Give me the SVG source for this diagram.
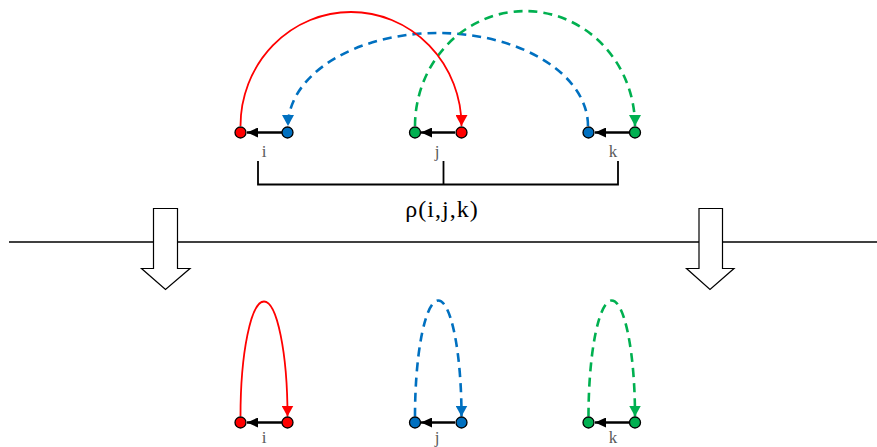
<svg xmlns="http://www.w3.org/2000/svg" width="877" height="447" viewBox="0 0 877 447">
<style>
.dot{stroke:#000;stroke-width:1.3}
.r{fill:#FF0000}.b{fill:#0070C0}.g{fill:#00B050}
.lbl{font-family:"Liberation Serif",serif;font-size:17px;fill:#595959;text-anchor:middle}
.rho{font-family:"Liberation Serif",serif;font-size:24px;fill:#000;text-anchor:middle;letter-spacing:1px}
.blk{stroke:#000;stroke-width:2.5;fill:none}
.arcR{stroke:#FF0000;stroke-width:1.8;fill:none}
.arcB{stroke:#0070C0;stroke-width:2.6;fill:none;stroke-dasharray:9 6}
.arcG{stroke:#00B050;stroke-width:2.6;fill:none;stroke-dasharray:9 6}
.blockarrow{fill:#fff;stroke:#000;stroke-width:1.2}
</style>
<defs>
<marker id="mK" markerUnits="userSpaceOnUse" markerWidth="12" markerHeight="10" refX="11" refY="5" orient="auto"><path d="M0,0 L11,5 L0,10 z" fill="#000"/></marker>
<marker id="mR" markerUnits="userSpaceOnUse" markerWidth="12" markerHeight="12" refX="11" refY="6" orient="auto"><path d="M0,0 L11,6 L0,12 z" fill="#FF0000"/></marker>
<marker id="mB" markerUnits="userSpaceOnUse" markerWidth="12" markerHeight="12" refX="11" refY="6" orient="auto"><path d="M0,0 L11,6 L0,12 z" fill="#0070C0"/></marker>
<marker id="mG" markerUnits="userSpaceOnUse" markerWidth="12" markerHeight="12" refX="11" refY="6" orient="auto"><path d="M0,0 L11,6 L0,12 z" fill="#00B050"/></marker>
</defs>

<g id="separator">
<line x1="9" y1="242" x2="877" y2="242" stroke="#000" stroke-width="1.6"/>
</g>

<g id="blockarrow-left">
<path class="blockarrow" d="M153.5,208.5 H177.5 V268.5 H190 L165.5,289.5 L141.5,268.5 H153.5 Z"/>
</g>
<g id="blockarrow-right">
<path class="blockarrow" d="M699,208.5 H722.5 V268.5 H734 L710,289.5 L686.5,268.5 H699 Z"/>
</g>

<g id="bracket">
<path d="M258,161 V184.5 H618 V161 M443.5,161 V184.5" fill="none" stroke="#000" stroke-width="1.8"/>
<text class="rho" x="442" y="217">ρ(i,j,k)</text>
</g>

<g id="connectors">
<path class="arcB" d="M588,126 A150,93 0 0 0 288,126" marker-end="url(#mB)"/>
<path class="arcG" d="M415,126 A110,115 0 0 1 635,126" marker-end="url(#mG)"/>
<path class="arcR" d="M240.5,126 A110.5,114 0 0 1 461.5,126" marker-end="url(#mR)"/>
<line class="blk" x1="282" y1="132.5" x2="247" y2="132.5" marker-end="url(#mK)"/>
<line class="blk" x1="455" y1="132.5" x2="421" y2="132.5" marker-end="url(#mK)"/>
<line class="blk" x1="629" y1="132.5" x2="595" y2="132.5" marker-end="url(#mK)"/>
<path class="arcR" d="M240.5,416.5 A23.5,115 0 0 1 287.5,416.5" marker-end="url(#mR)"/>
<path class="arcB" d="M415,416.5 A23.25,116 0 0 1 461.5,416.5" marker-end="url(#mB)"/>
<path class="arcG" d="M588.5,416.5 A23.25,116 0 0 1 635,416.5" marker-end="url(#mG)"/>
<line class="blk" x1="282" y1="422.5" x2="247" y2="422.5" marker-end="url(#mK)"/>
<line class="blk" x1="455" y1="422.5" x2="421" y2="422.5" marker-end="url(#mK)"/>
<line class="blk" x1="629" y1="422.5" x2="595" y2="422.5" marker-end="url(#mK)"/>
</g>

<g id="node-i-top">
<circle class="dot r" cx="240.5" cy="132.5" r="5.5"/>
<circle class="dot b" cx="287.5" cy="132.5" r="5.5"/>
<text class="lbl" x="264" y="157">i</text>
</g>
<g id="node-j-top">
<circle class="dot g" cx="415" cy="132.5" r="5.5"/>
<circle class="dot r" cx="461.5" cy="132.5" r="5.5"/>
<text class="lbl" x="437" y="157">j</text>
</g>
<g id="node-k-top">
<circle class="dot b" cx="588.5" cy="132.5" r="5.5"/>
<circle class="dot g" cx="635" cy="132.5" r="5.5"/>
<text class="lbl" x="613" y="157">k</text>
</g>

<g id="node-i-bottom">
<circle class="dot r" cx="240.5" cy="422.5" r="5.5"/>
<circle class="dot r" cx="287.5" cy="422.5" r="5.5"/>
<text class="lbl" x="264" y="443">i</text>
</g>
<g id="node-j-bottom">
<circle class="dot b" cx="415" cy="422.5" r="5.5"/>
<circle class="dot b" cx="461.5" cy="422.5" r="5.5"/>
<text class="lbl" x="437" y="443">j</text>
</g>
<g id="node-k-bottom">
<circle class="dot g" cx="588.5" cy="422.5" r="5.5"/>
<circle class="dot g" cx="635" cy="422.5" r="5.5"/>
<text class="lbl" x="613" y="443">k</text>
</g>
</svg>
